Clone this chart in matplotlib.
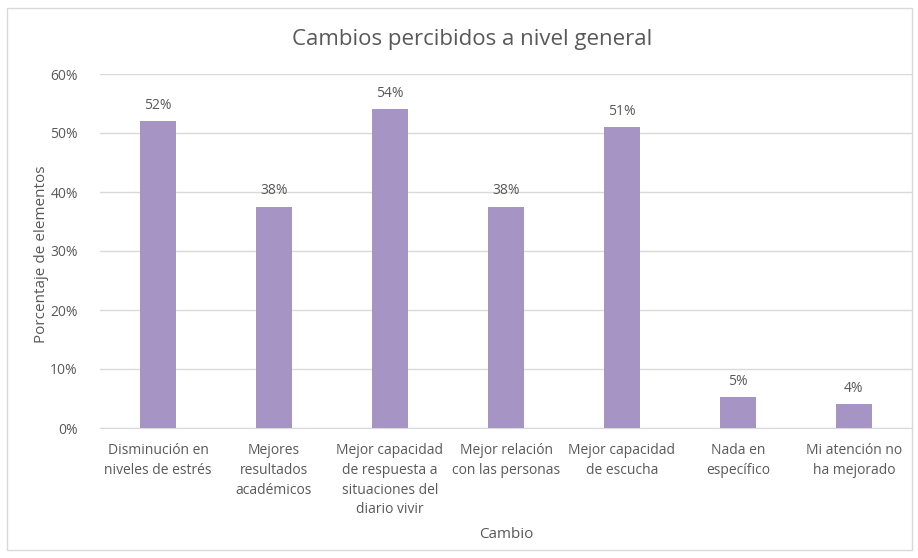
import matplotlib
matplotlib.use("Agg")
import matplotlib.pyplot as plt
from matplotlib.patches import Rectangle
from matplotlib.ticker import FuncFormatter

categories = ["Disminución en\nniveles de estrés", "Mejores\nresultados\nacadémicos",
              "Mejor capacidad\nde respuesta a\nsituaciones del\ndiario vivir",
              "Mejor relación\ncon las personas", "Mejor capacidad\nde escucha",
              "Nada en\nespecífico", "Mi atención no\nha mejorado"]
values = [0.52, 0.375, 0.54, 0.375, 0.51, 0.052, 0.04]
labels = ["52%", "38%", "54%", "38%", "51%", "5%", "4%"]
yticks = [0, 0.1, 0.2, 0.3, 0.4, 0.5, 0.6]

plt.rcParams['font.family'] = ['Open Sans', 'DejaVu Sans']
txt = '#595959'
fig = plt.figure(figsize=(9.18, 5.58), dpi=100)
fig.patches.append(Rectangle((7/918, 8/558), 905/918, 542/558, transform=fig.transFigure,
                             fill=False, edgecolor='#D9D9D9', linewidth=1))
ax = fig.add_axes([100/918, (558-428)/558, 812/918, (428-74)/558])
x = range(len(categories))
ax.bar(x, values, width=0.31, color='#A594C4', zorder=2)
for xi, v, l in zip(x, values, labels):
    ax.text(xi, v + 0.014, l, ha='center', va='bottom', fontsize=10, color=txt)
ax.set_xlim(-0.5, len(categories) - 0.5)
ax.set_ylim(0, 0.6)
ax.set_yticks(yticks)
ax.yaxis.set_major_formatter(FuncFormatter(lambda v, p: f"{v*100:.0f}%"))
ax.grid(axis='y', color='#D9D9D9', linewidth=1, zorder=0)
ax.set_xticks(list(x))
ax.set_xticklabels(categories, fontsize=10, color=txt, linespacing=1.43)
ax.tick_params(axis='y', labelsize=10, labelcolor=txt, length=0, pad=16)
ax.tick_params(axis='x', length=0, pad=11)
for s in ['top', 'right', 'left']:
    ax.spines[s].set_visible(False)
ax.spines['bottom'].set_color('#D9D9D9')
fig.text(472/918, 1 - 40/558, "Cambios percibidos a nivel general", ha='center', va='center',
         fontsize=16, color=txt)
fig.text(42/918, 1 - 254/558, "Porcentaje de elementos", ha='center', va='center',
         rotation=90, fontsize=11, color=txt)
fig.text(506/918, 1 - 535/558, "Cambio", ha='center', va='center', fontsize=11, color=txt)
fig.savefig("out.png", dpi=100)
